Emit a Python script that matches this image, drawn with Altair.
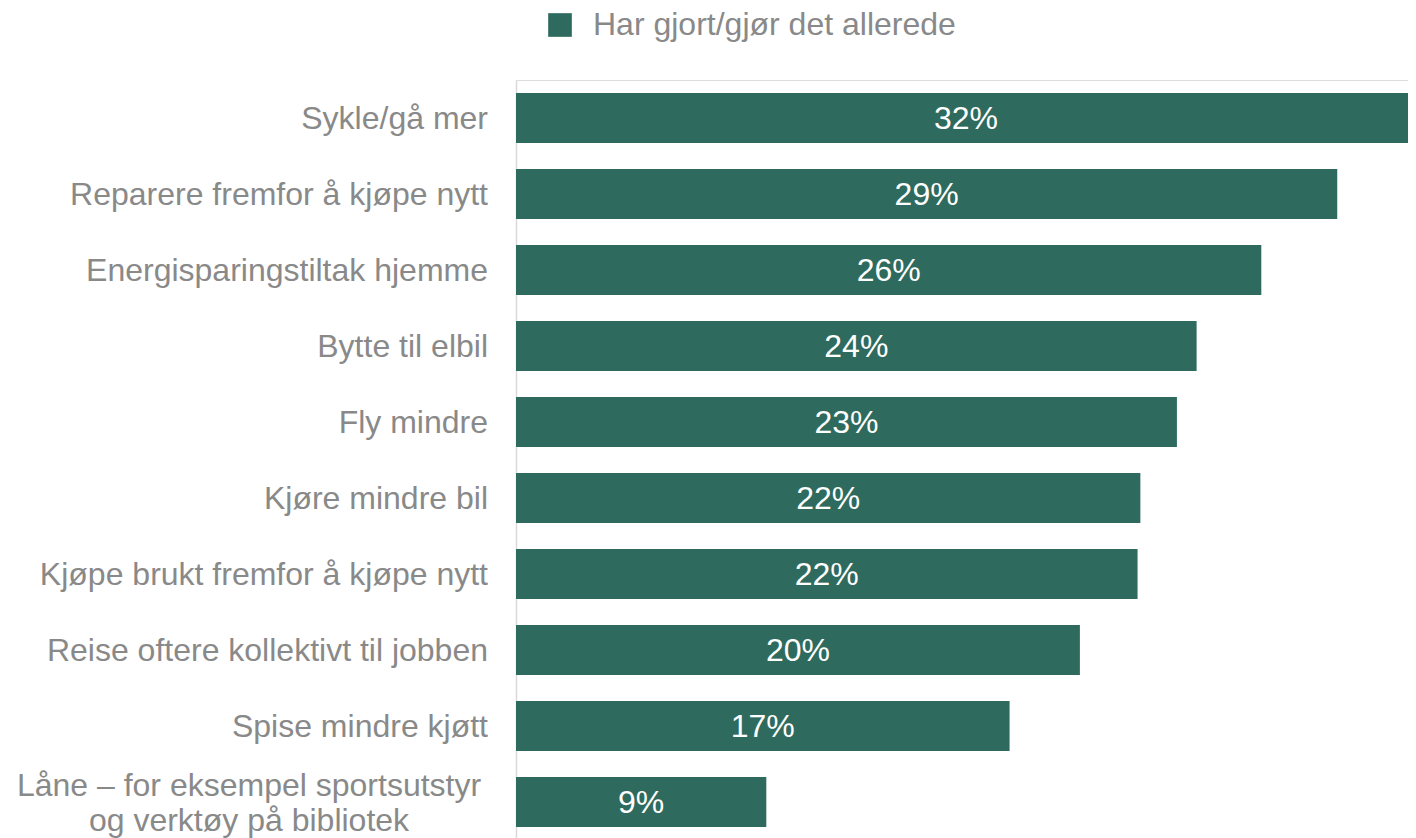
import altair as alt
import pandas as pd

categories = [
    "Sykle/gå mer\u00a0",
    "Reparere fremfor å kjøpe nytt\u00a0",
    "Energisparingstiltak hjemme",
    "Bytte til elbil",
    "Fly mindre\u00a0",
    "Kjøre mindre bil",
    "Kjøpe brukt fremfor å kjøpe nytt\u00a0",
    "Reise oftere kollektivt til jobben",
    "Spise mindre kjøtt",
    "Låne – for eksempel sportsutstyr\nog verktøy på bibliotek",
]
bar_values = [32.0, 29.2, 26.5, 24.2, 23.5, 22.2, 22.1, 20.05, 17.55, 8.9]
pct_labels = ["32%", "29%", "26%", "24%", "23%", "22%", "22%", "20%", "17%", "9%"]
multiline = [False] * 9 + [True]
series_name = "Har gjort/gjør det allerede"

GREEN = "#2E6B5E"
GRAY = "#898989"
FONT = "Liberation Sans"
FS = 32

df = pd.DataFrame({
    "cat": categories,
    "value": bar_values,
    "pct": pct_labels,
    "multi": multiline,
    "series": [series_name] * len(categories),
})

y_scale = alt.Scale(paddingInner=0.342, paddingOuter=0.171, range=[0, 760])

y_enc = alt.Y(
    "cat:N",
    sort=None,
    scale=y_scale,
    axis=alt.Axis(
        title=None, labels=False, ticks=False,
        domain=True, domainColor="#D9D9D9", domainWidth=1.5,
    ),
)

base = alt.Chart(df)

bars = base.mark_bar().encode(
    y=y_enc,
    x=alt.X("value:Q", scale=alt.Scale(domain=[0, 31.716], nice=False, zero=True),
            axis=None),
    color=alt.Color(
        "series:N",
        scale=alt.Scale(range=[GREEN]),
        legend=alt.Legend(
            title=None, orient="none", legendX=28, legendY=-71,
            symbolType="square", symbolSize=560, symbolStrokeWidth=0,
            symbolOpacity=1,
            labelFont=FONT, labelFontSize=FS, labelColor=GRAY,
            labelOffset=17, padding=0, labelLimit=600,
        ),
    ),
)

value_text = base.transform_calculate(mid="datum.value / 2").mark_text(
    font=FONT, fontSize=FS, color="white", align="center", baseline="middle", dy=1
).encode(
    y=alt.Y("cat:N", sort=None),
    x=alt.X("mid:Q"),
    text="pct:N",
)

cat_text = base.transform_filter("!datum.multi").mark_text(
    font=FONT, fontSize=FS, color=GRAY, align="right", baseline="middle", dy=1
).encode(
    y=alt.Y("cat:N", sort=None),
    x=alt.value(-28),
    text="cat:N",
)

cat_text_multi = base.transform_filter("datum.multi").mark_text(
    font=FONT, fontSize=FS, color=GRAY, align="center", baseline="middle",
    lineBreak="\n", lineHeight=35, dy=-16
).encode(
    y=alt.Y("cat:N", sort=None),
    x=alt.value(-267),
    text="cat:N",
)

chart = alt.layer(bars, value_text, cat_text, cat_text_multi).properties(
    width=892,
    height=758,
    autosize=alt.AutoSizeParams(type="none"),
    padding={"left": 508, "top": 72, "right": 0, "bottom": 0},
).configure_view(stroke=None).configure(background="white")

chart.save("out.html", embed_options={"renderer": "svg", "actions": False})
